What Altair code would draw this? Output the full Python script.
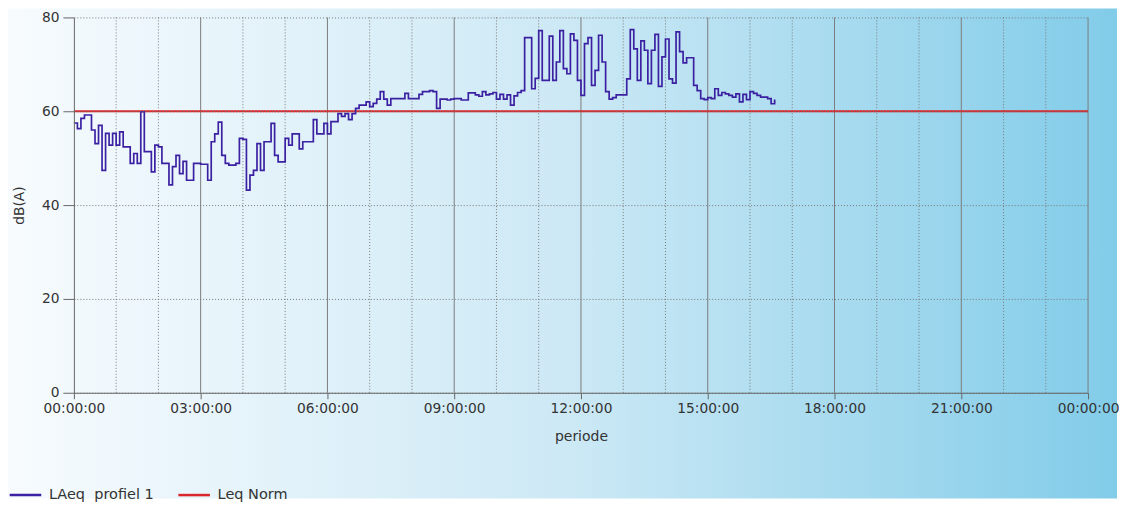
import altair as alt
import pandas as pd

# ---------------- data ----------------
STEP_MINUTES = 5
laeq = [
    57.5, 56.3, 58.5, 59.2, 59.2, 56.0, 53.1, 57.0, 47.4, 55.3,
    52.8, 55.3, 52.8, 55.6, 52.4, 52.4, 48.9, 51.0, 48.9, 59.9,
    51.4, 51.4, 47.1, 52.8, 52.4, 48.9, 48.9, 44.3, 48.2, 50.6,
    46.7, 49.3, 45.3, 45.3, 48.9, 48.9, 48.7, 48.7, 45.3, 53.5,
    55.2, 57.7, 50.6, 48.9, 48.5, 48.5, 48.9, 54.2, 54.0, 43.2,
    46.4, 47.4, 53.1, 47.4, 53.5, 53.5, 57.4, 50.6, 49.2, 49.2,
    54.2, 52.8, 55.2, 55.2, 52.0, 53.5, 53.5, 53.5, 58.2, 55.2,
    55.2, 57.4, 55.2, 57.8, 57.8, 59.5, 58.9, 59.5, 58.2, 59.5,
    60.6, 61.3, 61.3, 62.0, 61.0, 61.7, 62.6, 64.2, 62.6, 61.3,
    62.7, 62.7, 62.7, 62.7, 63.8, 62.7, 62.7, 62.7, 63.6, 64.2,
    64.2, 64.4, 64.2, 60.6, 62.6, 62.6, 62.4, 62.6, 62.7, 62.7,
    62.4, 62.4, 63.9, 63.9, 63.5, 63.2, 64.2, 63.5, 63.7, 64.0,
    62.6, 63.6, 62.6, 63.5, 61.3, 63.3, 64.0, 64.4, 75.7, 75.7,
    64.8, 67.0, 77.2, 66.6, 66.6, 76.0, 66.6, 70.5, 77.2, 69.1,
    68.0, 76.5, 75.1, 66.6, 63.4, 74.4, 75.7, 65.5, 68.7, 76.2,
    70.5, 64.2, 62.6, 62.9, 63.5, 63.5, 63.5, 66.9, 77.4, 73.3,
    66.6, 75.0, 73.0, 65.9, 73.0, 76.4, 65.3, 71.6, 75.4, 66.9,
    66.0, 76.9, 72.7, 70.3, 71.4, 71.4, 65.5, 64.4, 62.7, 62.5,
    62.9, 62.7, 64.8, 63.4, 64.0, 63.7, 63.4, 63.0, 63.7, 62.0,
    63.6, 62.5, 64.2, 63.8, 63.4, 63.0, 63.0, 62.7, 61.6, 62.5,
]
norm_level = [60]
series_names = ["LAeq\u00a0 profiel 1", "Leq Norm"]
series_colors = ["#3b21a2", "#d9262a"]
x_tick_hours = [0, 3, 6, 9, 12, 15, 18, 21, 24]
major_grid_hours = [3, 6, 9, 12, 15, 18, 21, 24]
minor_grid_hours = [h for h in range(1, 24) if h % 3]
y_ticks = [0, 20, 40, 60, 80]

FONT = "DejaVu Sans"
TEXT = "#333333"
W, H = 1016, 376

line_df = pd.DataFrame({
    "hour": [i * STEP_MINUTES / 60 for i in range(len(laeq))],
    "dB": laeq,
    "serie": series_names[0],
})
norm_df = pd.DataFrame({"dB": norm_level, "serie": series_names[1]})
minor_df = pd.DataFrame({"hour": minor_grid_hours})
major_df = pd.DataFrame({"hour": major_grid_hours})

x_scale = alt.Scale(domain=[0, 24], nice=False, zero=False)
y_scale = alt.Scale(domain=[0, 80], nice=False)
color_scale = alt.Scale(domain=series_names, range=series_colors)

x_axis = alt.Axis(
    values=x_tick_hours,
    labelExpr="(datum.value % 24 < 10 ? '0' : '') + (datum.value % 24) + ':00:00'",
    grid=False, tickSize=6, tickColor="#666666", domainColor="#666666",
    labelFont=FONT, labelFontSize=13.8, labelColor=TEXT, labelPadding=3,
    labelFlush=False,
    title="periode", titleFont=FONT, titleFontSize=14, titleFontWeight="normal",
    titleColor=TEXT, titlePadding=14, zindex=1,
)
y_axis = alt.Axis(
    values=y_ticks, grid=True, gridDash=[1, 2], gridColor="#777777",
    tickSize=11, tickColor="#666666", domainColor="#666666",
    labelFont=FONT, labelFontSize=13.8, labelColor=TEXT, labelPadding=4,
    title="dB(A)", titleFont=FONT, titleFontSize=13.8, titleFontWeight="normal",
    titleColor=TEXT, titlePadding=15, zindex=1,
)
legend = alt.Legend(
    orient="none", legendX=-66, legendY=461, direction="horizontal",
    title=None, symbolType="stroke", symbolSize=1000, symbolStrokeWidth=2.5,
    labelFont=FONT, labelFontSize=14.5, labelColor=TEXT, labelOffset=6,
    columnPadding=18, padding=0,
)

bg = alt.Chart(pd.DataFrame({"k": [0]})).mark_rect(
    color=alt.LinearGradient(
        gradient="linear",
        stops=[
            alt.GradientStop(color="#f7fbfe", offset=0),
            alt.GradientStop(color="#cde9f5", offset=0.5),
            alt.GradientStop(color="#82cce9", offset=1),
        ],
        x1=0, x2=1, y1=0, y2=0,
    )
).encode(
    x=alt.value(-66), x2=alt.value(1045), y=alt.value(-9), y2=alt.value(482)
)

minor = alt.Chart(minor_df).mark_rule(
    color="#7a7a7a", strokeDash=[1, 2], strokeWidth=1
).encode(x=alt.X("hour:Q", scale=x_scale, axis=x_axis))

major = alt.Chart(major_df).mark_rule(
    color="#7c7c7c", strokeWidth=1
).encode(x=alt.X("hour:Q", scale=x_scale, axis=x_axis))

norm = alt.Chart(norm_df).mark_rule(strokeWidth=2.2).encode(
    y=alt.Y("dB:Q", scale=y_scale, axis=y_axis),
    color=alt.Color("serie:N", scale=color_scale, legend=legend),
)

line = alt.Chart(line_df).mark_line(
    interpolate="step-after", strokeWidth=1.7
).encode(
    x=alt.X("hour:Q", scale=x_scale, axis=x_axis),
    y=alt.Y("dB:Q", scale=y_scale, axis=y_axis),
    color=alt.Color("serie:N", scale=color_scale, legend=legend),
)

chart = alt.layer(bg, minor, major, norm, line).properties(
    width=W, height=H, padding=0, background="white"
).configure_view(stroke=None)

chart.save("out.html", embed_options={"renderer": "svg", "actions": False})
